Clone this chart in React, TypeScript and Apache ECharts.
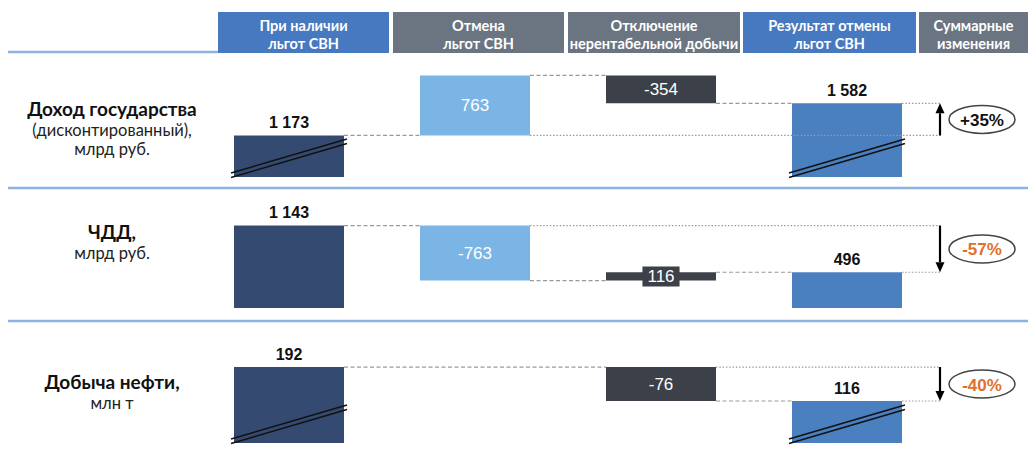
import React, { useEffect, useRef } from "react";
import * as echarts from "echarts";

// ---------- data ----------
const categories = [
  "При наличии\nльгот СВН",
  "Отмена\nльгот СВН",
  "Отключение\nнерентабельной добычи",
  "Результат отмены\nльгот СВН",
];
const summaryHeader = "Суммарные\nизменения";
const rowTitles = ["Доход государства", "ЧДД,", "Добыча нефти,"];
const rowSubtitles = [["(дисконтированный),", "млрд руб."], ["млрд руб."], ["млн т"]];
const incomeValues: (number | null)[] = [1173, 763, -354, 1582];
const npvValues: (number | null)[] = [1143, -763, 116, 496];
const oilValues: (number | null)[] = [192, null, -76, 116];
const changeLabels = ["+35%", "-57%", "-40%"];
// axis ranges (value axis broken for rows 1 and 3)
const axisMins = [645, 0, 22];
const axisMaxs = [2107, 1498, 257];
const brokenAxis = [true, false, true];

// ---------- layout / style ----------
const BAR_W = 110;
const barColors = ["#344a70", "#7ab5e6", "#3c4048", "#4a7fc0"];
const gridRects = [
  { top: 62, height: 115 },
  { top: 200, height: 108 },
  { top: 338, height: 105 },
];
const headerBoxes = [
  [218, 389, "#4679c0"],
  [393, 564, "#6b7582"],
  [568, 740, "#6b7582"],
  [743, 916, "#4679c0"],
  [919, 1028, "#6b7582"],
];
const rowLabelY = [
  [108, 129.5, 148.5],
  [231, 253],
  [381, 403],
];
const separatorY = [188, 321];

function fmt(v: number): string {
  const s = Math.abs(v)
    .toString()
    .replace(/\B(?=(\d{3})+(?!\d))/g, " ");
  return (v < 0 ? "-" : "") + s;
}

function buildRow(values: (number | null)[], min: number) {
  const n = values.length;
  const bars: number[][] = [];
  const connectors: number[][] = [];
  let level = values[0] as number;
  bars.push([0, min, level, 0, level]);
  let prev = 0;
  let firstDelta = -1;
  for (let i = 1; i < n - 1; i++) {
    const v = values[i];
    if (v == null) continue;
    const next = level + v;
    bars.push([i, Math.min(level, next), Math.max(level, next), i, v]);
    connectors.push([prev, i, level, 0]);
    if (firstDelta < 0) firstDelta = i;
    level = next;
    prev = i;
  }
  const last = values[n - 1] as number;
  bars.push([n - 1, min, last, 3, last]);
  connectors.push([prev, n - 1, level, 0]);
  connectors.push([firstDelta, n - 1, values[0] as number, 1]);
  connectors.push([n - 1, n - 1, last, 1]);
  return { bars, connectors, arrow: [[n - 1, values[0] as number, last]] };
}

function textStyle(extra: any) {
  return {
    align: "center",
    verticalAlign: "middle",
    textAlign: "center",
    textVerticalAlign: "middle",
    ...extra,
  };
}

function barRenderer(broken: boolean) {
  return (params: any, api: any) => {
    const cat = api.value(0);
    const low = api.value(1);
    const high = api.value(2);
    const kind = api.value(3);
    const val = api.value(4);
    const pLow = api.coord([cat, low]);
    const pHigh = api.coord([cat, high]);
    const cx = pLow[0];
    const x = cx - BAR_W / 2;
    const top = pHigh[1];
    const bottom = pLow[1];
    const h = bottom - top;
    const isTotal = kind === 0 || kind === 3;
    const children: any[] = [
      {
        type: "rect",
        shape: { x, y: top, width: BAR_W, height: h },
        style: { fill: barColors[kind] },
      },
    ];
    if (isTotal) {
      if (broken) {
        for (const off of [0, 4.5]) {
          children.push({
            type: "line",
            shape: { x1: x - 3, y1: bottom - 4 + off, x2: x + BAR_W + 3, y2: bottom - 38 + off },
            style: { stroke: "#111", lineWidth: 1.4 },
          });
        }
      }
      children.push({
        type: "text",
        x: cx,
        y: top - 13,
        style: textStyle({
          text: fmt(val),
          fill: "#111",
          fontSize: 16,
          fontWeight: "bold",
          fontFamily: "Liberation Sans",
        }),
      });
    } else {
      const small = h < 20;
      children.push({
        type: "text",
        x: cx,
        y: top + h / 2,
        z2: 10,
        style: textStyle({
          text: fmt(val),
          fill: "#ffffff",
          fontSize: 17,
          fontFamily: "Liberation Sans",
          backgroundColor: small ? barColors[kind] : "transparent",
          padding: small ? [2, 5, 1, 5] : 0,
        }),
      });
    }
    return { type: "group", children };
  };
}

function connectorRenderer(params: any, api: any) {
  const a = api.value(0);
  const b = api.value(1);
  const level = api.value(2);
  const kind = api.value(3);
  const bw = api.size([1, 0])[0];
  const p1 = api.coord([a, level]);
  const p2 = api.coord([b, level]);
  const xs = p1[0] + BAR_W / 2;
  const xe = kind === 0 ? p2[0] - BAR_W / 2 : p2[0] + bw / 2;
  return {
    type: "line",
    shape: { x1: xs, y1: p1[1], x2: xe, y2: p1[1] },
    style: {
      stroke: "#9a9a9a",
      lineWidth: 1.2,
      lineDash: kind === 0 ? [4, 2.5] : [1.5, 1.8],
    },
  };
}

function arrowRenderer(row: number) {
  return (params: any, api: any) => {
    const cat = api.value(0);
    const from = api.value(1);
    const to = api.value(2);
    const bw = api.size([1, 0])[0];
    const pF = api.coord([cat, from]);
    const pT = api.coord([cat, to]);
    const xA = pF[0] + bw / 2;
    const yF = pF[1];
    const yT = pT[1];
    const dir = yT > yF ? 1 : -1;
    const headBase = yT - dir * 10;
    const label = changeLabels[row];
    const negative = label.charAt(0) === "-";
    const cy = (yF + yT) / 2;
    return {
      type: "group",
      children: [
        {
          type: "line",
          shape: { x1: xA, y1: yF, x2: xA, y2: headBase },
          style: { stroke: "#000", lineWidth: 2.2 },
        },
        {
          type: "polygon",
          shape: {
            points: [
              [xA - 4.5, headBase],
              [xA + 4.5, headBase],
              [xA, yT],
            ],
          },
          style: { fill: "#000" },
        },
        {
          type: "ellipse",
          shape: { cx: xA + 42, cy, rx: 33, ry: 14 },
          style: { fill: "#fff", stroke: "#444", lineWidth: 1.5 },
        },
        {
          type: "text",
          x: xA + 42,
          y: cy + 1,
          style: textStyle({
            text: label,
            fill: negative ? "#e0702a" : "#111",
            fontSize: 17,
            fontWeight: "bold",
            fontFamily: "Liberation Sans",
          }),
        },
      ],
    };
  };
}

export default function App() {
  const ref = useRef<HTMLDivElement>(null);
  useEffect(() => {
    if (!ref.current) return;
    const chart = echarts.init(ref.current, undefined, { renderer: "svg" });
    const rows = [incomeValues, npvValues, oilValues].map((v, i) => buildRow(v, axisMins[i]));

    const grid = gridRects.map((g) => ({ left: 196, width: 744, top: g.top, height: g.height }));
    const xAxis = gridRects.map((_, i) => ({
      type: "category",
      gridIndex: i,
      data: categories,
      show: false,
    }));
    const yAxis = gridRects.map((_, i) => ({
      type: "value",
      gridIndex: i,
      min: axisMins[i],
      max: axisMaxs[i],
      show: false,
      splitLine: { show: false },
    }));
    const series: any[] = [];
    rows.forEach((r, i) => {
      series.push({
        type: "custom",
        xAxisIndex: i,
        yAxisIndex: i,
        z: 2,
        renderItem: barRenderer(brokenAxis[i]),
        encode: { x: 0, y: [1, 2] },
        data: r.bars,
      });
      series.push({
        type: "custom",
        xAxisIndex: i,
        yAxisIndex: i,
        z: 3,
        renderItem: connectorRenderer,
        encode: { x: 0, y: 2 },
        data: r.connectors,
      });
      series.push({
        type: "custom",
        xAxisIndex: i,
        yAxisIndex: i,
        z: 4,
        renderItem: arrowRenderer(i),
        encode: { x: 0, y: [1, 2] },
        data: r.arrow,
      });
    });

    const graphics: any[] = [];
    graphics.push({
      type: "line",
      shape: { x1: 8, y1: 52, x2: 218, y2: 52 },
      style: { stroke: "#8db3e2", lineWidth: 2.5 },
    });
    separatorY.forEach((y) =>
      graphics.push({
        type: "line",
        shape: { x1: 8, y1: y, x2: 1028, y2: y },
        style: { stroke: "#8db3e2", lineWidth: 2.5 },
      })
    );
    const headerTexts = [...categories, summaryHeader];
    headerBoxes.forEach((b, i) => {
      const x0 = b[0] as number;
      const x1 = b[1] as number;
      graphics.push({
        type: "rect",
        shape: { x: x0, y: 12, width: x1 - x0, height: 41 },
        style: { fill: b[2] as string },
      });
      graphics.push({
        type: "text",
        x: (x0 + x1) / 2,
        y: 34,
        style: textStyle({
          text: headerTexts[i],
          fill: "#ffffff",
          fontSize: 14.5,
          fontWeight: "bold",
          fontFamily: "Lato",
          lineHeight: 18,
        }),
      });
    });
    rowTitles.forEach((t, i) => {
      const ys = rowLabelY[i];
      graphics.push({
        type: "text",
        x: 112,
        y: ys[0],
        style: textStyle({
          text: t,
          fill: "#111",
          fontSize: 19,
          lineHeight: 19,
          fontWeight: "bold",
          fontFamily: "Lato",
        }),
      });
      rowSubtitles[i].forEach((s, j) => {
        graphics.push({
          type: "text",
          x: 112,
          y: ys[j + 1],
          style: textStyle({
            text: s,
            fill: "#222",
            fontSize: 16.5,
            lineHeight: 16.5,
            fontFamily: "Lato",
          }),
        });
      });
    });

    chart.setOption({
      animation: false,
      backgroundColor: "#ffffff",
      grid,
      xAxis,
      yAxis,
      series,
      graphic: { elements: graphics },
    });
    return () => chart.dispose();
  }, []);
  return (
    <div
      ref={ref}
      style={{ position: "fixed", left: 0, top: 0, width: 1028, height: 450 }}
    />
  );
}
